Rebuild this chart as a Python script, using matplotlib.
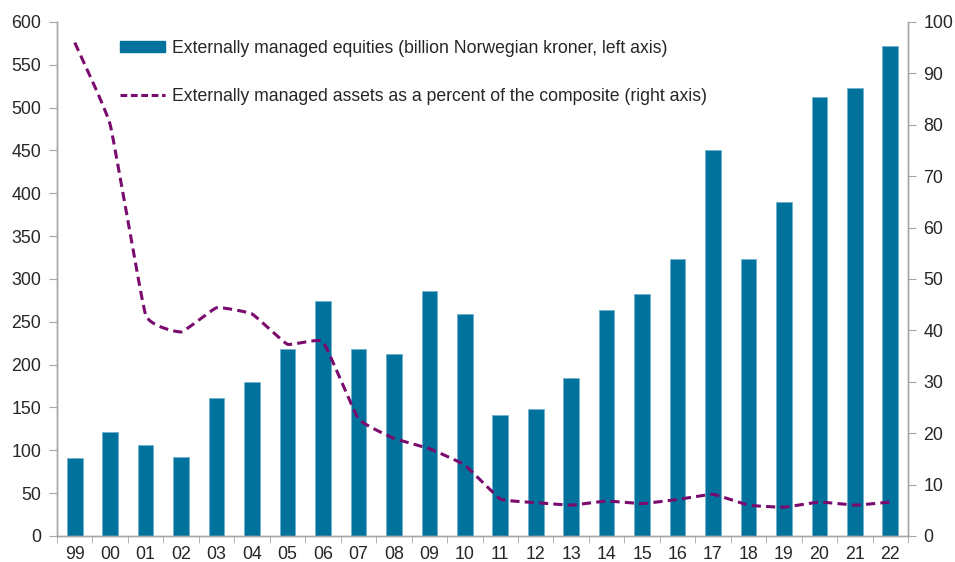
import numpy as np
import matplotlib
matplotlib.use("Agg")
import matplotlib.pyplot as plt
from matplotlib.lines import Line2D
from matplotlib.patches import Patch

plt.rcParams['font.family'] = ['Liberation Sans', 'DejaVu Sans']

years = ["99", "00", "01", "02", "03", "04", "05", "06", "07", "08", "09", "10",
         "11", "12", "13", "14", "15", "16", "17", "18", "19", "20", "21", "22"]
equities = [91, 121, 106, 92, 161, 180, 218, 274, 218, 213, 286, 259,
            141, 148, 184, 264, 282, 323, 451, 323, 390, 513, 523, 572]
percent = [96, 80, 43, 39.7, 44.4, 43.2, 37.3, 37.8, 22.8, 19, 17, 13.8,
           7.2, 6.5, 6.0, 6.8, 6.3, 7.1, 8.1, 6.0, 5.6, 6.6, 6.0, 6.6]

label_bar = "Externally managed equities (billion Norwegian kroner, left axis)"
label_line = "Externally managed assets as a percent of the composite (right axis)"

bar_color = "#00729C"
line_color = "#7A0A6E"
spine_color = "#A6A6A6"
text_color = "#262626"


def smooth(xs, ys, n=20, k=18.0):
    xs = np.asarray(xs, float)
    ys = np.asarray(ys, float)
    px = np.concatenate([[2 * xs[0] - xs[1]], xs, [2 * xs[-1] - xs[-2]]])
    py = np.concatenate([[2 * ys[0] - ys[1]], ys, [2 * ys[-1] - ys[-2]]])
    outx, outy = [], []
    for i in range(1, len(px) - 2):
        p0, p1, p2, p3 = (np.array([px[j], py[j]]) for j in (i - 1, i, i + 1, i + 2))
        c1 = p1 + (p2 - p0) / k
        c2 = p2 - (p3 - p1) / k
        t = np.linspace(0, 1, n, endpoint=(i == len(px) - 3))
        pts = ((1 - t) ** 3)[:, None] * p1 + (3 * (1 - t) ** 2 * t)[:, None] * c1 \
            + (3 * (1 - t) * t ** 2)[:, None] * c2 + (t ** 3)[:, None] * p2
        outx.extend(pts[:, 0])
        outy.extend(pts[:, 1])
    return np.array(outx), np.array(outy)


fig = plt.figure(figsize=(9.55, 5.62), dpi=100)
ax = fig.add_axes([0.0597, 0.0463, 0.8911, 0.9146])
ax2 = ax.twinx()

x = np.arange(len(years))
ax.bar(x, equities, width=0.44, color=bar_color, edgecolor="#6FB3CC", linewidth=0.6, zorder=2)
ax.set_xlim(-0.5, len(years) - 0.5)
ax.set_ylim(0, 600)
ax.set_yticks(np.arange(0, 601, 50))

sx, sy = smooth(x, percent)
ax2.plot(sx, sy, color=line_color, lw=2.2, dashes=(3.0, 1.7), zorder=3)
ax2.set_ylim(0, 100)
ax2.set_yticks(np.arange(0, 101, 10))

ax.set_xticks(x)
ax.set_xticklabels(years)
ax.set_xticks(np.arange(-0.5, len(years), 1), minor=True)
ax.tick_params(axis='x', which='major', length=0, pad=7, labelsize=12.8, colors=text_color)
ax.tick_params(axis='x', which='minor', length=5, color=spine_color, direction='out')
ax.tick_params(axis='y', length=6, color=spine_color, labelsize=12.8, labelcolor=text_color, pad=5.5)
ax2.tick_params(axis='y', length=6, color=spine_color, labelsize=12.8, labelcolor=text_color, pad=5)

for a in (ax, ax2):
    a.spines['top'].set_visible(False)
    for s in ('left', 'right', 'bottom'):
        a.spines[s].set_color(spine_color)
        a.spines[s].set_linewidth(1.0)

handles = [Patch(facecolor=bar_color, edgecolor=bar_color),
           Line2D([0], [0], color=line_color, lw=2.2, dashes=(2.2, 1.2))]
leg = fig.legend(handles, [label_bar, label_line], loc='upper left',
                 bbox_to_anchor=(120 / 955, 1 - 40 / 562), frameon=False,
                 borderpad=0, borderaxespad=0, handlelength=2.55, handleheight=0.55,
                 handletextpad=0.38, labelspacing=1.75, fontsize=12.7)
for t in leg.get_texts():
    t.set_color(text_color)

fig.savefig("out.png", dpi=100)
